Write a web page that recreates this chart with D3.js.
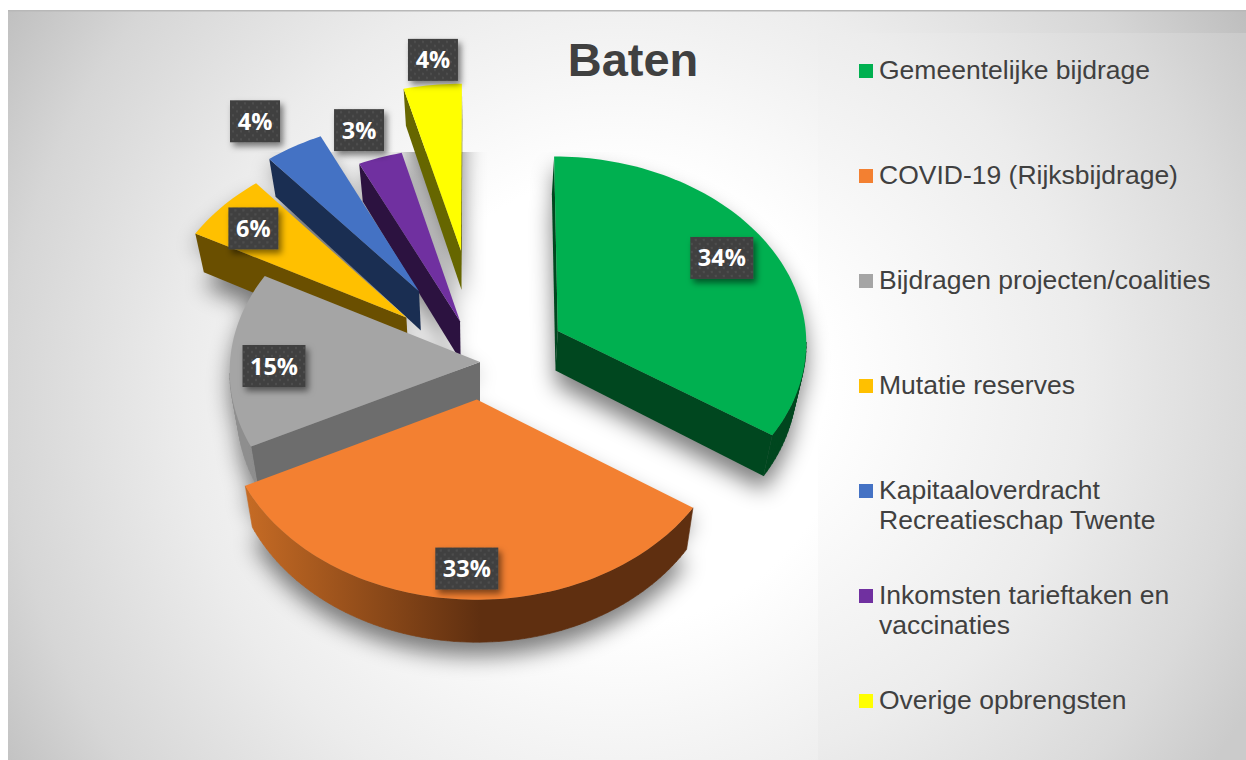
<!DOCTYPE html>
<html><head><meta charset="utf-8">
<script src="https://cdn.jsdelivr.net/npm/d3@7/dist/d3.min.js"></script>
<style>html,body{margin:0;padding:0;background:#fff;overflow:hidden}svg{display:block}</style>
</head><body><svg id="c" width="1246" height="760"></svg>
<script>
const title = "Baten";
const categories = ["Gemeentelijke bijdrage","COVID-19 (Rijksbijdrage)","Bijdragen projecten/coalities","Mutatie reserves","Kapitaaloverdracht Recreatieschap Twente","Inkomsten tarieftaken en vaccinaties","Overige opbrengsten"];
const legendLines = [["Gemeentelijke bijdrage"],["COVID-19 (Rijksbijdrage)"],["Bijdragen projecten/coalities"],["Mutatie reserves"],["Kapitaaloverdracht","Recreatieschap Twente"],["Inkomsten tarieftaken en","vaccinaties"],["Overige opbrengsten"]];
const values = [34,33,15,6,4,3,4];
const topColors = ["#00B050","#F38031","#A5A5A5","#FFC000","#4472C4","#7030A0","#FFFF00"];
const cutColors = ["#00471F","#5F2F10","#6D6D6D","#6A4F00","#1A2E52","#2C1240","#666600"];
const rimColors = ["#00471F","url(#orangeRim)","#8E8E8E","#6A4F00","#1A2E52","#2C1240","#666600"];
const explode = [89,50,0,96,115,59,155];
const labelShift = [[164,-73],[-10,169],[-206,4],[-153,-89],[-164,-170],[-101,-191],[-28,-191]];
const drawOrder = [6,5,4,3,2,0,1];

const W=1246,H=760,cx=480,cy=362,R=250,K=0.745,D=5000,DEPTH=40;
const svg=d3.select("#c"), defs=svg.append("defs");

function radial(id,x,y,r,stops){
  const g=defs.append("radialGradient").attr("id",id).attr("gradientUnits","userSpaceOnUse")
    .attr("cx",x).attr("cy",y).attr("r",r);
  stops.forEach(s=>g.append("stop").attr("offset",s[0]).attr("stop-color",s[1]));
}
radial("bgMain",620,400,750,[[0,"#fff"],[.3,"#fff"],[.58,"#ececec"],[.82,"#d6d6d6"],[1,"#bbb"]]);
radial("bgLegend",700,380,640,[[0,"#fff"],[.2,"#fff"],[.6,"#ececec"],[.85,"#dadada"],[1,"#cbcbcb"]]);
const rim=defs.append("linearGradient").attr("id","orangeRim").attr("gradientUnits","userSpaceOnUse")
  .attr("x1",250).attr("x2",480).attr("y1",0).attr("y2",0);
rim.append("stop").attr("offset",0).attr("stop-color","#C46A24");
rim.append("stop").attr("offset",1).attr("stop-color","#5F2F10");
defs.append("filter").attr("id","blur").attr("x","-30%").attr("y","-30%").attr("width","160%").attr("height","160%")
  .append("feGaussianBlur").attr("stdDeviation",11);
const ls=defs.append("filter").attr("id","labelShadow").attr("x","-30%").attr("y","-30%").attr("width","170%").attr("height","170%");
ls.append("feDropShadow").attr("dx",3).attr("dy",4).attr("stdDeviation",3).attr("flood-color","#000").attr("flood-opacity",.5);
const pat=defs.append("pattern").attr("id","dots").attr("patternUnits","userSpaceOnUse").attr("width",8).attr("height",8);
pat.append("rect").attr("width",8).attr("height",8).attr("fill","#404040");
pat.append("circle").attr("cx",2).attr("cy",2).attr("r",1.2).attr("fill","#4e4e4e");
pat.append("circle").attr("cx",6).attr("cy",6).attr("r",1.2).attr("fill","#4e4e4e");
defs.append("clipPath").attr("id","shadowClip").append("rect").attr("x",0).attr("y",152).attr("width",W).attr("height",H-152);

// backdrop
svg.append("rect").attr("x",8).attr("y",10).attr("width",W-8).attr("height",H-10).attr("fill","url(#bgMain)");
svg.append("rect").attr("x",818).attr("y",33).attr("width",W-818).attr("height",H-33).attr("fill","url(#bgLegend)");
svg.append("rect").attr("x",8).attr("y",10).attr("width",W-8).attr("height",1.5).attr("fill","#b8b8b8");

// pie geometry
const arcs=d3.pie().sort(null).value(d=>d)(values);
const persp=Y=>D/(D+Y);
const project=(X,Y)=>{const s=persp(Y);return [cx+X*s,cy-K*Y*s,s];};
const base=p=>[cx+(p[0]-cx)*0.97,p[1]+DEPTH*p[2],p[2]];
const line=d3.line();

const slices=arcs.map((a,i)=>{
  const mid=(a.startAngle+a.endAngle)/2, ox=explode[i]*Math.sin(mid), oy=explode[i]*Math.cos(mid);
  const n=Math.max(8,Math.round((a.endAngle-a.startAngle)*40));
  const rim=d3.range(n+1).map(j=>{
    const t=a.startAngle+(a.endAngle-a.startAngle)*j/n;
    return project(ox+R*Math.sin(t),oy+R*Math.cos(t));
  });
  return {i,apex:project(ox,oy),rim};
});
const quad=(p,q)=>line([p,q,base(q),base(p)])+"Z";

// soft shadows
const sh=svg.append("g").attr("clip-path","url(#shadowClip)").append("g")
  .attr("filter","url(#blur)").attr("transform","translate(0,14)").attr("opacity",.5);
slices.forEach(s=>{
  const poly=[s.apex,...s.rim];
  sh.append("path").attr("d",line(poly)+"Z").attr("fill","#000");
  sh.append("path").attr("d",line(poly.map(base))+"Z").attr("fill","#000");
});

// slices, far to near
drawOrder.forEach(idx=>{
  const s=slices[idx], g=svg.append("g");
  const first=s.rim[0], last=s.rim[s.rim.length-1];
  if(first[0]<s.apex[0]) g.append("path").attr("d",quad(s.apex,first)).attr("fill",cutColors[idx]);
  let rimD="";
  d3.pairs(s.rim).forEach(([p,q])=>{ if(q[0]<p[0]) rimD+=quad(p,q); });
  if(rimD) g.append("path").attr("d",rimD).attr("fill",rimColors[idx]).attr("stroke",rimColors[idx]).attr("stroke-width",.6);
  if(s.apex[0]<last[0]) g.append("path").attr("d",quad(last,s.apex)).attr("fill",cutColors[idx]);
  g.append("path").attr("d",line([s.apex,...s.rim])+"Z").attr("fill",topColors[idx]);
});

// data labels
slices.forEach(s=>{
  const txt=values[s.i]+"%", w=txt.length>2?63:50, h=42;
  const g=svg.append("g").attr("transform",`translate(${s.apex[0]+labelShift[s.i][0]},${s.apex[1]+labelShift[s.i][1]})`);
  g.append("rect").attr("x",-w/2).attr("y",-h/2).attr("width",w).attr("height",h)
    .attr("fill","url(#dots)").attr("filter","url(#labelShadow)");
  g.append("text").attr("y",8.5).attr("text-anchor","middle").attr("fill","#fff")
    .attr("font-family","'Open Sans', sans-serif").attr("font-weight",700).attr("font-size",23.5).text(txt);
});

// title
svg.append("text").attr("x",633).attr("y",76).attr("text-anchor","middle").attr("fill","#404040")
  .attr("font-family","'Liberation Sans', Arial, sans-serif").attr("font-weight",700).attr("font-size",47).text(title);

// legend
const legendY=d3.scaleBand().domain(categories).range([64,64+105*7]).align(0);
categories.forEach((c,i)=>{
  const y=legendY(c), g=svg.append("g");
  g.append("rect").attr("x",859).attr("y",y).attr("width",14).attr("height",14).attr("fill",topColors[i]);
  legendLines[i].forEach((t,j)=>g.append("text").attr("x",879).attr("y",y+15+30*j).attr("fill","#404040")
    .attr("font-family","'Liberation Sans', Arial, sans-serif").attr("font-size",26.5).text(t));
});
</script></body></html>
